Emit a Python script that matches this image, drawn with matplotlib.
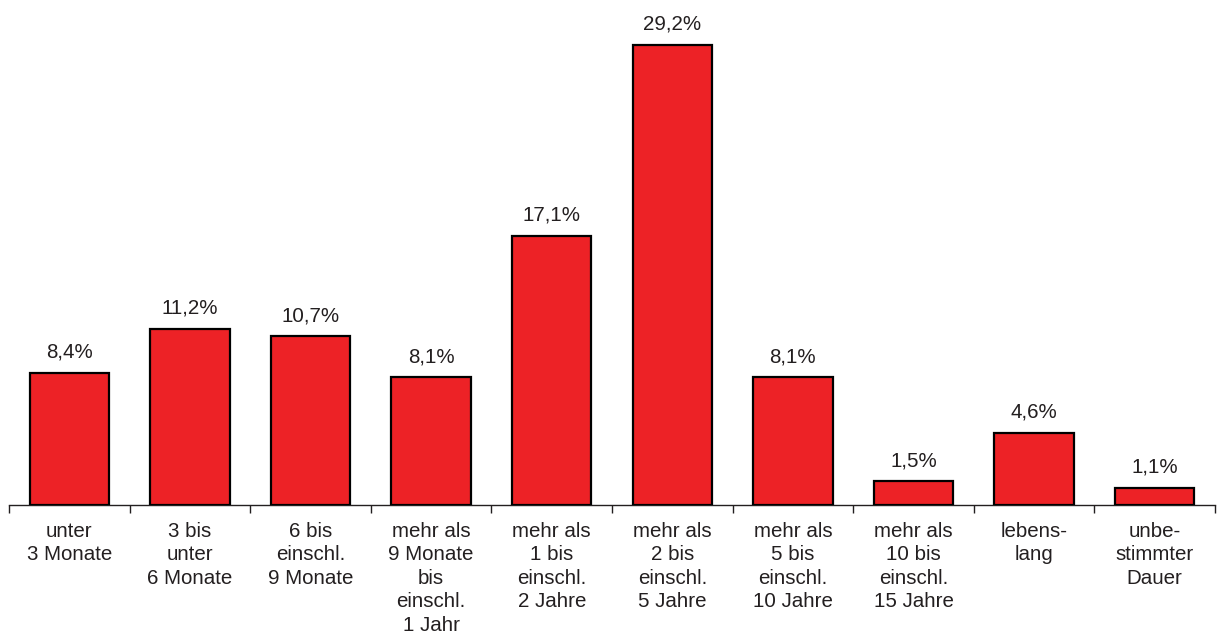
import matplotlib.pyplot as plt
import numpy as np

plt.rcParams['font.family'] = ['Liberation Sans', 'DejaVu Sans']

categories = [
    "unter\n3 Monate",
    "3 bis\nunter\n6 Monate",
    "6 bis\neinschl.\n9 Monate",
    "mehr als\n9 Monate\nbis\neinschl.\n1 Jahr",
    "mehr als\n1 bis\neinschl.\n2 Jahre",
    "mehr als\n2 bis\neinschl.\n5 Jahre",
    "mehr als\n5 bis\neinschl.\n10 Jahre",
    "mehr als\n10 bis\neinschl.\n15 Jahre",
    "lebens-\nlang",
    "unbe-\nstimmter\nDauer",
]
values = [8.4, 11.2, 10.7, 8.1, 17.1, 29.2, 8.1, 1.5, 4.6, 1.1]
labels = ["8,4%", "11,2%", "10,7%", "8,1%", "17,1%", "29,2%", "8,1%", "1,5%", "4,6%", "1,1%"]

fig = plt.figure(figsize=(12.18, 6.37), dpi=100)
ax = fig.add_axes([9 / 1218, 132 / 637, 1206 / 1218, 505 / 637])

x = np.arange(len(values))
bars = ax.bar(x, values, width=0.66, color="#ED2226", edgecolor="black", linewidth=1.6, zorder=3)

for b, lab in zip(bars, labels):
    ax.annotate(lab, (b.get_x() + b.get_width() / 2, b.get_height()),
                xytext=(0, 8), textcoords="offset points",
                ha="center", va="bottom", fontsize=14.8, color="#231F20")

ax.set_xlim(-0.5, len(values) - 0.5)
ax.set_ylim(0, 32.06)

ax.set_xticks(x)
ax.set_xticklabels(categories, fontsize=14.8, color="#231F20", linespacing=1.3, va="top")
ax.tick_params(axis="x", which="major", length=0, pad=12)
ax.set_xticks(np.arange(-0.5, len(values), 1), minor=True)
ax.tick_params(axis="x", which="minor", length=6, width=1, color="#231F20", direction="out")

ax.set_yticks([])
for s in ["top", "left", "right"]:
    ax.spines[s].set_visible(False)
ax.spines["bottom"].set_color("#231F20")
ax.spines["bottom"].set_linewidth(1)

fig.savefig("out.png", dpi=100)
